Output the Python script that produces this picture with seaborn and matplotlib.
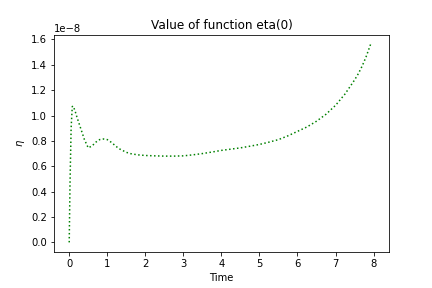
import numpy as np
import pandas as pd
import matplotlib
matplotlib.use("Agg")
import matplotlib.pyplot as plt
import seaborn as sns

# values (eta in units of 1e-8)
time = [0.0, 0.02, 0.05, 0.08, 0.1, 0.15, 0.2, 0.3, 0.4, 0.5, 0.6, 0.7, 0.8, 0.9,
        1.0, 1.1, 1.2, 1.3, 1.4, 1.5, 1.6, 1.8, 2.0, 2.25, 2.5, 2.75, 3.0, 3.25,
        3.5, 3.75, 4.0, 4.25, 4.5, 4.75, 5.0, 5.25, 5.5, 5.75, 6.0, 6.25, 6.5,
        6.75, 7.0, 7.25, 7.5, 7.6, 7.7, 7.8, 7.92]
eta = [0.0, 0.45, 0.9, 1.07, 1.075, 1.04, 0.99, 0.9, 0.81, 0.745, 0.76, 0.79,
       0.81, 0.815, 0.81, 0.79, 0.765, 0.74, 0.725, 0.71, 0.70, 0.69, 0.685,
       0.682, 0.68, 0.68, 0.682, 0.69, 0.70, 0.712, 0.725, 0.735, 0.745, 0.758,
       0.772, 0.79, 0.81, 0.84, 0.875, 0.91, 0.955, 1.01, 1.08, 1.17, 1.28,
       1.33, 1.39, 1.46, 1.56]

df = pd.DataFrame({"Time": time, "eta": np.array(eta) * 1e-8})

fig, ax = plt.subplots(figsize=(6, 4), dpi=72)
fig.subplots_adjust(bottom=0.124)
sns.lineplot(data=df, x="Time", y="eta", color="green", linestyle=":", ax=ax)
ax.set_xlim(-0.4, 8.4)
ax.set_title("Value of function eta(0)")
ax.set_xlabel("Time")
ax.set_ylabel(r"$\eta$")
fig.savefig("out.png", dpi=72)
